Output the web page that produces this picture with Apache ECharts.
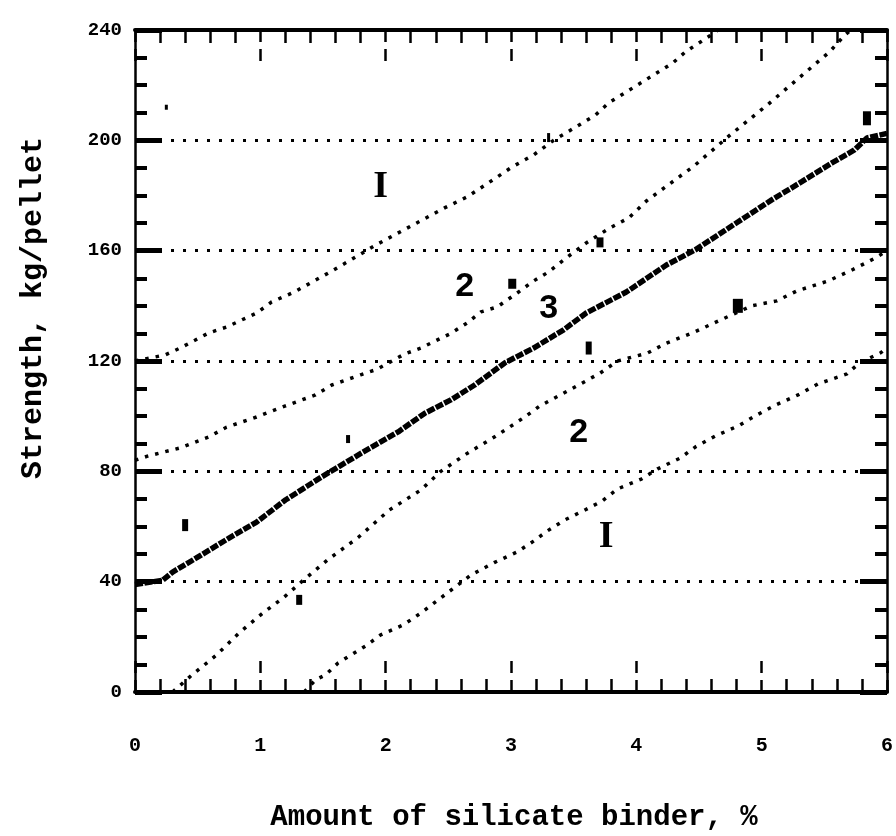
<!DOCTYPE html>
<html>
<head>
<meta charset="utf-8">
<script src="https://cdn.jsdelivr.net/npm/echarts/dist/echarts.min.js"></script>
<style>
  html, body { margin: 0; padding: 0; background: #ffffff; }
  #chart { width: 896px; height: 836px; }
</style>
</head>
<body>
<div id="chart"></div>
<script>
// Axis ticks
const xTickLabels = ['0', '1', '2', '3', '4', '5', '6'];
const yTickLabels = ['0', '40', '80', '120', '160', '200', '240'];

// Regression line 3 (x = binder %, y = strength kg/pellet)
const line3 = [[0, 39], [0.22, 40.5], [0.3, 43.5], [0.49, 48.6], [0.75, 55.8], [0.97, 61.6], [1.2, 69.6],
  [1.49, 78], [1.81, 86.7], [2.1, 94.3], [2.31, 101], [2.52, 105.9], [2.71, 111.3], [2.95, 119.3],
  [3.18, 124.7], [3.42, 131.3], [3.6, 137.4], [3.92, 145], [4.24, 154.8], [4.47, 160.3], [4.81, 170.4],
  [5.08, 178.4], [5.32, 185], [5.56, 191.8], [5.74, 196.5], [5.84, 200.9], [6, 202.5]];

// Confidence band 2 (upper and lower)
const band2Upper = [[0, 84], [0.1, 85.5], [0.36, 88.5], [0.59, 92.5], [0.73, 96], [0.97, 99.7], [1.2, 103.7],
  [1.44, 107.7], [1.57, 111.3], [1.8, 115], [1.93, 117], [2.15, 122.5], [2.28, 124.7], [2.52, 130],
  [2.65, 133.8], [2.76, 137.8], [2.89, 139.6], [3.06, 145], [3.18, 149], [3.3, 152.3], [3.43, 157],
  [3.6, 162.8], [3.78, 168], [3.94, 171.9], [4.08, 178], [4.46, 190.7], [4.75, 202], [5.05, 213],
  [5.24, 220.4], [5.54, 232], [5.66, 238], [5.71, 240]];
const band2Lower = [[0.3, 0], [0.45, 6], [0.65, 13.4], [0.83, 21.4], [1.02, 28.6], [1.19, 34.4], [1.33, 40],
  [1.54, 48], [1.78, 56], [2.03, 66], [2.28, 73.2], [2.44, 80], [2.65, 86.5], [2.87, 92.5], [3.11, 99.7],
  [3.23, 103.7], [3.54, 111.3], [3.71, 115.6], [3.85, 120], [4.09, 122.9], [4.24, 126.5], [4.45, 130.2],
  [4.63, 134], [4.92, 140], [5.12, 141.8], [5.28, 145.4], [5.53, 149], [5.72, 153], [5.91, 157.4], [6, 160]];

// Confidence band I (upper and lower)
const bandIUpper = [[0, 120], [0.24, 122.2], [0.36, 124.7], [0.59, 130.2], [0.73, 132.3], [0.97, 137.4],
  [1.09, 141.4], [1.27, 145], [1.57, 152.6], [1.92, 162], [2.16, 167.9], [2.47, 175.5], [2.65, 179.5],
  [2.89, 186.7], [3.01, 190.4], [3.18, 194.7], [3.34, 200], [3.67, 209], [3.78, 213.6], [4.29, 228],
  [4.39, 232], [4.59, 238], [4.65, 240]];
const bandILower = [[1.35, 0], [1.44, 4.4], [1.52, 6.2], [1.62, 10.5], [1.85, 17], [1.96, 20.7], [2.14, 24.3],
  [2.28, 28.6], [2.68, 42.4], [2.87, 47], [3.05, 50.8], [3.18, 54.7], [3.29, 58.4], [3.43, 62.4], [3.59, 66],
  [3.73, 69.3], [3.85, 73.6], [4.04, 77.2], [4.17, 80.9], [4.35, 84.8], [4.47, 88.8], [4.63, 92.8],
  [4.81, 96.4], [4.96, 100.4], [5.11, 104], [5.29, 107.7], [5.45, 111.7], [5.68, 115.3], [5.78, 119.3],
  [5.95, 123], [6, 125]];

// Measured pellets
const pointX = [0.25, 0.40, 1.31, 1.70, 3.01, 3.30, 3.62, 3.71, 4.81, 5.84];
const pointY = [212, 60.5, 33.4, 91.7, 148, 201, 124.7, 163, 140, 208];
const pointW = [3, 6, 6, 4, 8, 3, 6, 7, 10, 8];
const pointH = [5, 12, 10, 8, 10, 9, 13, 10, 14, 14];

// Curve labels
const curveLabelText = ['I', '2', '3', '2', 'I'];
const curveLabelX = [1.96, 2.63, 3.30, 3.54, 3.76];
const curveLabelY = [183, 147, 139, 94, 56];

const INK = '#000000';
const MONO = '"Liberation Mono", "DejaVu Sans Mono", monospace';

const chart = echarts.init(document.getElementById('chart'));

function xAxisCfg(position, showLabels) {
  return {
    type: 'value', position: position, min: 0, max: 6, interval: 1,
    axisLine: { show: true, onZero: false, lineStyle: { color: INK, width: 4 } },
    axisTick: { show: true, inside: true, length: 32, lineStyle: { color: INK, width: 2.5, type: [12, 7] } },
    minorTick: { show: true, splitNumber: 5, length: 13, lineStyle: { color: INK, width: 2.5 } },
    splitLine: { show: false },
    axisLabel: {
      show: showLabels, margin: 44, color: INK, fontFamily: MONO, fontSize: 20, fontWeight: 'bold',
      formatter: v => xTickLabels[Math.round(v)]
    }
  };
}

function yAxisCfg(position, showLabels) {
  return {
    type: 'value', position: position, min: 0, max: 240, interval: 40,
    axisLine: { show: true, onZero: false, lineStyle: { color: INK, width: 2.5 } },
    axisTick: { show: true, inside: true, length: 27, lineStyle: { color: INK, width: 5 } },
    minorTick: { show: true, splitNumber: 4, length: 12, lineStyle: { color: INK, width: 4 } },
    splitLine: { show: showLabels, lineStyle: { color: INK, width: 3, type: [3, 9] } },
    axisLabel: {
      show: showLabels, margin: 13, color: INK, fontFamily: MONO, fontSize: 19, fontWeight: 'bold',
      formatter: v => yTickLabels[Math.round(v / 40)]
    }
  };
}

function band(data) {
  return {
    type: 'line', data: data, symbol: 'none', smooth: false, z: 3,
    lineStyle: { color: INK, width: 3.5, type: [3.5, 7], opacity: 1 }
  };
}

const option = {
  backgroundColor: '#ffffff',
  animation: false,
  grid: { left: 135, right: 3, top: 30, bottom: 144, containLabel: false },
  xAxis: [xAxisCfg('bottom', true), xAxisCfg('top', false)],
  yAxis: [yAxisCfg('left', true), yAxisCfg('right', false)],
  graphic: [
    {
      type: 'text', x: 514, y: 803,
      style: {
        text: 'Amount of silicate binder, %', fill: INK, font: 'bold 29px ' + MONO,
        textAlign: 'center', textVerticalAlign: 'top'
      }
    },
    {
      type: 'text', x: 33, y: 308, rotation: Math.PI / 2,
      style: {
        text: 'Strength, kg/pellet', fill: INK, font: 'bold 30px ' + MONO,
        textAlign: 'center', textVerticalAlign: 'middle'
      }
    }
  ],
  series: [
    band(bandIUpper),
    band(band2Upper),
    band(band2Lower),
    band(bandILower),
    {
      type: 'line', data: line3, symbol: 'none', z: 4,
      lineStyle: { color: INK, width: 5.5, type: [8, 1.5], opacity: 1 }
    },
    {
      type: 'scatter', z: 5,
      data: pointX.map((x, i) => ({
        value: [x, pointY[i]], symbol: 'rect', symbolSize: [pointW[i], pointH[i]]
      })),
      itemStyle: { color: INK, opacity: 1 }
    },
    {
      type: 'scatter', z: 6, symbolSize: 0,
      itemStyle: { color: INK, opacity: 1 },
      data: curveLabelX.map((x, i) => ({
        value: [x, curveLabelY[i]],
        label: {
          show: true, position: 'inside', formatter: curveLabelText[i], color: INK, opacity: 1,
          fontFamily: curveLabelText[i] === 'I' ? '"Liberation Serif", serif' : '"Liberation Sans", Arial, sans-serif',
          fontWeight: 'bold', fontSize: curveLabelText[i] === 'I' ? 38 : 34
        }
      }))
    }
  ]
};

chart.setOption(option);
</script>
</body>
</html>
